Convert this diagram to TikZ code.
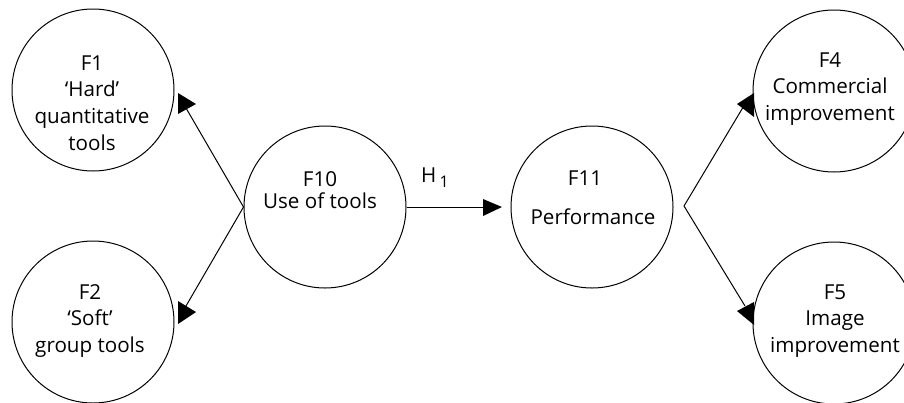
\documentclass[tikz,border=0pt]{standalone}
\usepackage{fontspec}
\setmainfont{Open Sans}
\begin{document}
\begin{tikzpicture}[x=0.5pt,y=-0.5pt,
  circ/.style={draw,circle,line width=0.5pt,minimum size=81pt,inner sep=0pt},
  lbl/.style={align=center,inner sep=0pt,font=\fontsize{10.3}{13.4}\selectfont},
  conn/.style={line width=0.5pt},
  head/.style={fill=black,draw=none}]
\useasboundingbox (0,0) rectangle (904,402);
% circles
\node[circ] (F1) at (93,90) {};
\node[circ] (F2) at (93,322) {};
\node[circ] (F10) at (325,207) {};
\node[circ] (F11) at (592,207) {};
\node[circ] (F4) at (834,91) {};
\node[circ] (F5) at (834,323) {};
% labels
\node[lbl] (t1) at (92,103) {F1\\‘Hard’\\quantitative\\tools};
\node[lbl] (t2) at (90,321) {F2\\‘Soft’\\group tools};
\node[lbl,font=\fontsize{10.3}{11}\selectfont] (t10) at (320,190) {F10\\Use of tools};
\node[lbl] (t11a) at (585,178) {F11};
\node[lbl] (t11b) at (593,217) {Performance};
\node[lbl] (t4) at (830,89) {F4\\Commercial\\improvement};
\node[lbl] (t5) at (835,321) {F5\\Image\\improvement};
\node[lbl] (h1) at (435,178) {H\,\raisebox{-0.45ex}{\fontsize{8}{8}\selectfont 1}};
% connector points
\coordinate (lA) at (186,108);
\coordinate (lB) at (186,306);
\coordinate (fork) at (684,206);
\coordinate (rA) at (745,104);
\coordinate (rB) at (745,306);
\coordinate (hA) at (484,207);
\draw[conn] (F10.west) -- (lA);
\draw[conn] (F10.west) -- (lB);
\draw[conn] (F10.east) -- (hA);
\draw[conn] (fork) -- (rA);
\draw[conn] (fork) -- (rB);
% arrowheads
\fill[head] (178,93) -- (178,114) -- (196,104) -- cycle;
\fill[head] (178,301) -- (178,324) -- (196,312) -- cycle;
\fill[head] (483,199) -- (483,216) -- (502,207) -- cycle;
\fill[head] (737,104) -- (754,93) -- (754,117) -- cycle;
\fill[head] (737,311) -- (754,302) -- (754,325) -- cycle;
\end{tikzpicture}
\end{document}
